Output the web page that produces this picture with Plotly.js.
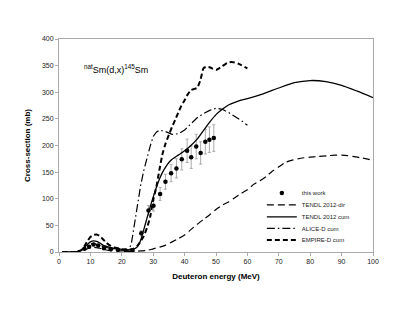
<!DOCTYPE html>
<html>
<head>
<meta charset="utf-8">
<script src="https://cdn.plot.ly/plotly-3.0.1.min.js"></script>
<style>
  body { margin: 0; background: #fff; }
  #plot { width: 415px; height: 321px; }
</style>
</head>
<body>
<div id="plot"></div>
<script>
// measured cross-sections (this work)
var expE = [8.1, 9.6, 11.0, 12.5, 14.3, 16.5, 18.8, 21.2, 23.4, 26.2, 28.5, 30.1, 32.2, 33.9, 35.7, 37.4, 39.1, 40.8, 42.1, 43.7, 45.1, 46.6, 47.9, 49.3];
var expSig = [6, 10, 14, 12, 7, 5, 4, 3, 3, 35, 78, 87, 109, 132, 148, 157, 174, 190, 178, 198, 186, 207, 211, 214];
var expErr = [1, 1, 2, 2, 1, 1, 1, 1, 1, 5, 9, 10, 12, 14, 16, 18, 20, 22, 21, 23, 21, 23, 24, 25];

// TENDL 2012 direct
var dirE = [1, 5, 7, 8, 9, 10, 11, 12, 13, 14, 16, 18, 20, 22, 24, 26, 28, 30, 32, 34, 36, 38, 40, 42, 44, 46, 48, 50, 52, 54, 56, 58, 60, 62, 64, 66, 68, 70, 72, 74, 76, 78, 80, 82, 84, 86, 88, 90, 92, 94, 96, 98, 100];
var dirSig = [0, 0, 2, 4, 6, 8, 9, 8, 7, 5, 3, 2, 2, 1, 1, 2, 3, 6, 9, 13, 19, 25, 32, 42, 52, 61, 70, 80, 88, 94, 102, 110, 117, 127, 134, 142, 152, 160, 168, 172, 175, 177, 178, 179, 180, 181, 182, 182, 181, 179, 177, 175, 172];

// TENDL 2012 cumulative
var cumE = [1, 5, 7, 8, 9, 10, 11, 12, 13, 14, 16, 18, 20, 22, 23, 24, 25, 26, 27, 28, 29, 30, 31, 32, 33, 34, 35, 36, 38, 40, 42, 44, 46, 48, 50, 52, 54, 56, 58, 60, 65, 70, 75, 80, 85, 90, 95, 100];
var cumSig = [0, 0, 3, 8, 14, 19, 21, 20, 17, 13, 9, 6, 5, 4, 4, 6, 10, 22, 42, 63, 84, 103, 121, 137, 150, 160, 168, 174, 182, 190, 200, 212, 228, 244, 258, 268, 276, 281, 285, 288, 297, 308, 318, 322, 320, 313, 302, 290];

// ALICE-D cumulative
var aliceE = [1, 5, 7, 8, 9, 10, 11, 12, 14, 16, 18, 20, 22, 23, 24, 25, 26, 27, 28, 29, 30, 31, 32, 34, 36, 38, 40, 42, 44, 46, 48, 50, 52, 54, 56, 58, 60];
var aliceSig = [0, 0, 3, 7, 12, 15, 16, 14, 10, 7, 5, 4, 3, 14, 54, 92, 125, 153, 177, 198, 217, 225, 229, 226, 221, 222, 229, 240, 252, 260, 266, 270, 268, 262, 255, 247, 238];

// EMPIRE-D cumulative
var empE = [1, 5, 7, 8, 9, 10, 11, 12, 13, 14, 15, 16, 18, 20, 22, 23, 24, 25, 26, 27, 28, 29, 30, 31, 32, 33, 34, 35, 36, 37, 38, 39, 40, 41, 42, 43, 44, 45, 46, 47, 48, 49, 50, 51, 52, 53, 54, 55, 56, 57, 58, 59, 60];
var empSig = [0, 0, 3, 10, 20, 28, 32, 33, 30, 24, 18, 13, 8, 5, 4, 5, 7, 12, 20, 30, 45, 65, 98, 122, 155, 185, 205, 220, 235, 248, 262, 275, 285, 296, 304, 306, 308, 322, 345, 348, 347, 344, 342, 345, 349, 353, 356, 357, 356, 354, 351, 348, 345];

var traces = [
  {
    x: expE, y: expSig, name: "this work", type: "scatter", mode: "markers", legend: "legend",
    marker: {color: "#000", size: 4.5},
    error_y: {type: "data", array: expErr, visible: true, color: "#aaa", thickness: 1, width: 1.5}
  },
  {
    x: dirE, y: dirSig, name: "TENDL 2012-dir", type: "scatter", mode: "lines", legend: "legend2",
    line: {color: "#000", width: 1.2, dash: "7px,4px", shape: "spline", smoothing: 0.6}
  },
  {
    x: cumE, y: cumSig, name: "TENDL 2012 cum", type: "scatter", mode: "lines", legend: "legend3",
    line: {color: "#000", width: 1.3, shape: "spline", smoothing: 0.6}
  },
  {
    x: aliceE, y: aliceSig, name: "ALICE-D cum", type: "scatter", mode: "lines", legend: "legend4",
    line: {color: "#000", width: 1.2, dash: "8px,3px,1.5px,3px"}
  },
  {
    x: empE, y: empSig, name: "EMPIRE-D cum", type: "scatter", mode: "lines", legend: "legend5",
    line: {color: "#000", width: 2, dash: "5px,3px", shape: "spline", smoothing: 0.4}
  }
];

// one legend per entry so the rows can sit as tightly as in the original
function legendAt(y) {
  return {
    x: 0.646, y: y, xanchor: "left", yanchor: "middle",
    bgcolor: "rgba(0,0,0,0)", font: {size: 6, color: "#222"},
    itemwidth: 30
  };
}

var layout = {
  width: 415, height: 321,
  margin: {l: 59, r: 42, t: 39, b: 69},
  paper_bgcolor: "#fff", plot_bgcolor: "#fff",
  font: {family: "Liberation Sans, Arial, sans-serif", size: 7, color: "#222"},
  showlegend: true,
  legend: legendAt(0.277),
  legend2: legendAt(0.221),
  legend3: legendAt(0.165),
  legend4: legendAt(0.111),
  legend5: legendAt(0.056),
  xaxis: {
    range: [0, 100], dtick: 10, tick0: 0,
    showgrid: false, zeroline: false,
    showline: true, mirror: true, linecolor: "#aaa", linewidth: 1,
    ticks: "outside", ticklen: 3, tickcolor: "#aaa",
    tickfont: {size: 7, color: "#222"},
    title: {text: "<b>Deuteron energy (MeV)</b>", font: {size: 8, color: "#000"}, standoff: 8}
  },
  yaxis: {
    range: [0, 400], dtick: 50, tick0: 0,
    showgrid: false, zeroline: false,
    showline: true, mirror: true, linecolor: "#aaa", linewidth: 1,
    ticks: "outside", ticklen: 3, tickcolor: "#aaa",
    tickfont: {size: 7, color: "#222"},
    title: {text: "<b>Cross-section (mb)</b>", font: {size: 8, color: "#000"}, standoff: 10}
  },
  annotations: [{
    text: "<sup>nat</sup>Sm(d,x)<sup>145</sup>Sm",
    xref: "paper", yref: "paper", x: 0.072, y: 0.86,
    xanchor: "left", yanchor: "middle", showarrow: false,
    font: {size: 9, color: "#000"}
  }]
};

Plotly.newPlot("plot", traces, layout, {displayModeBar: false, staticPlot: true});
</script>
</body>
</html>
